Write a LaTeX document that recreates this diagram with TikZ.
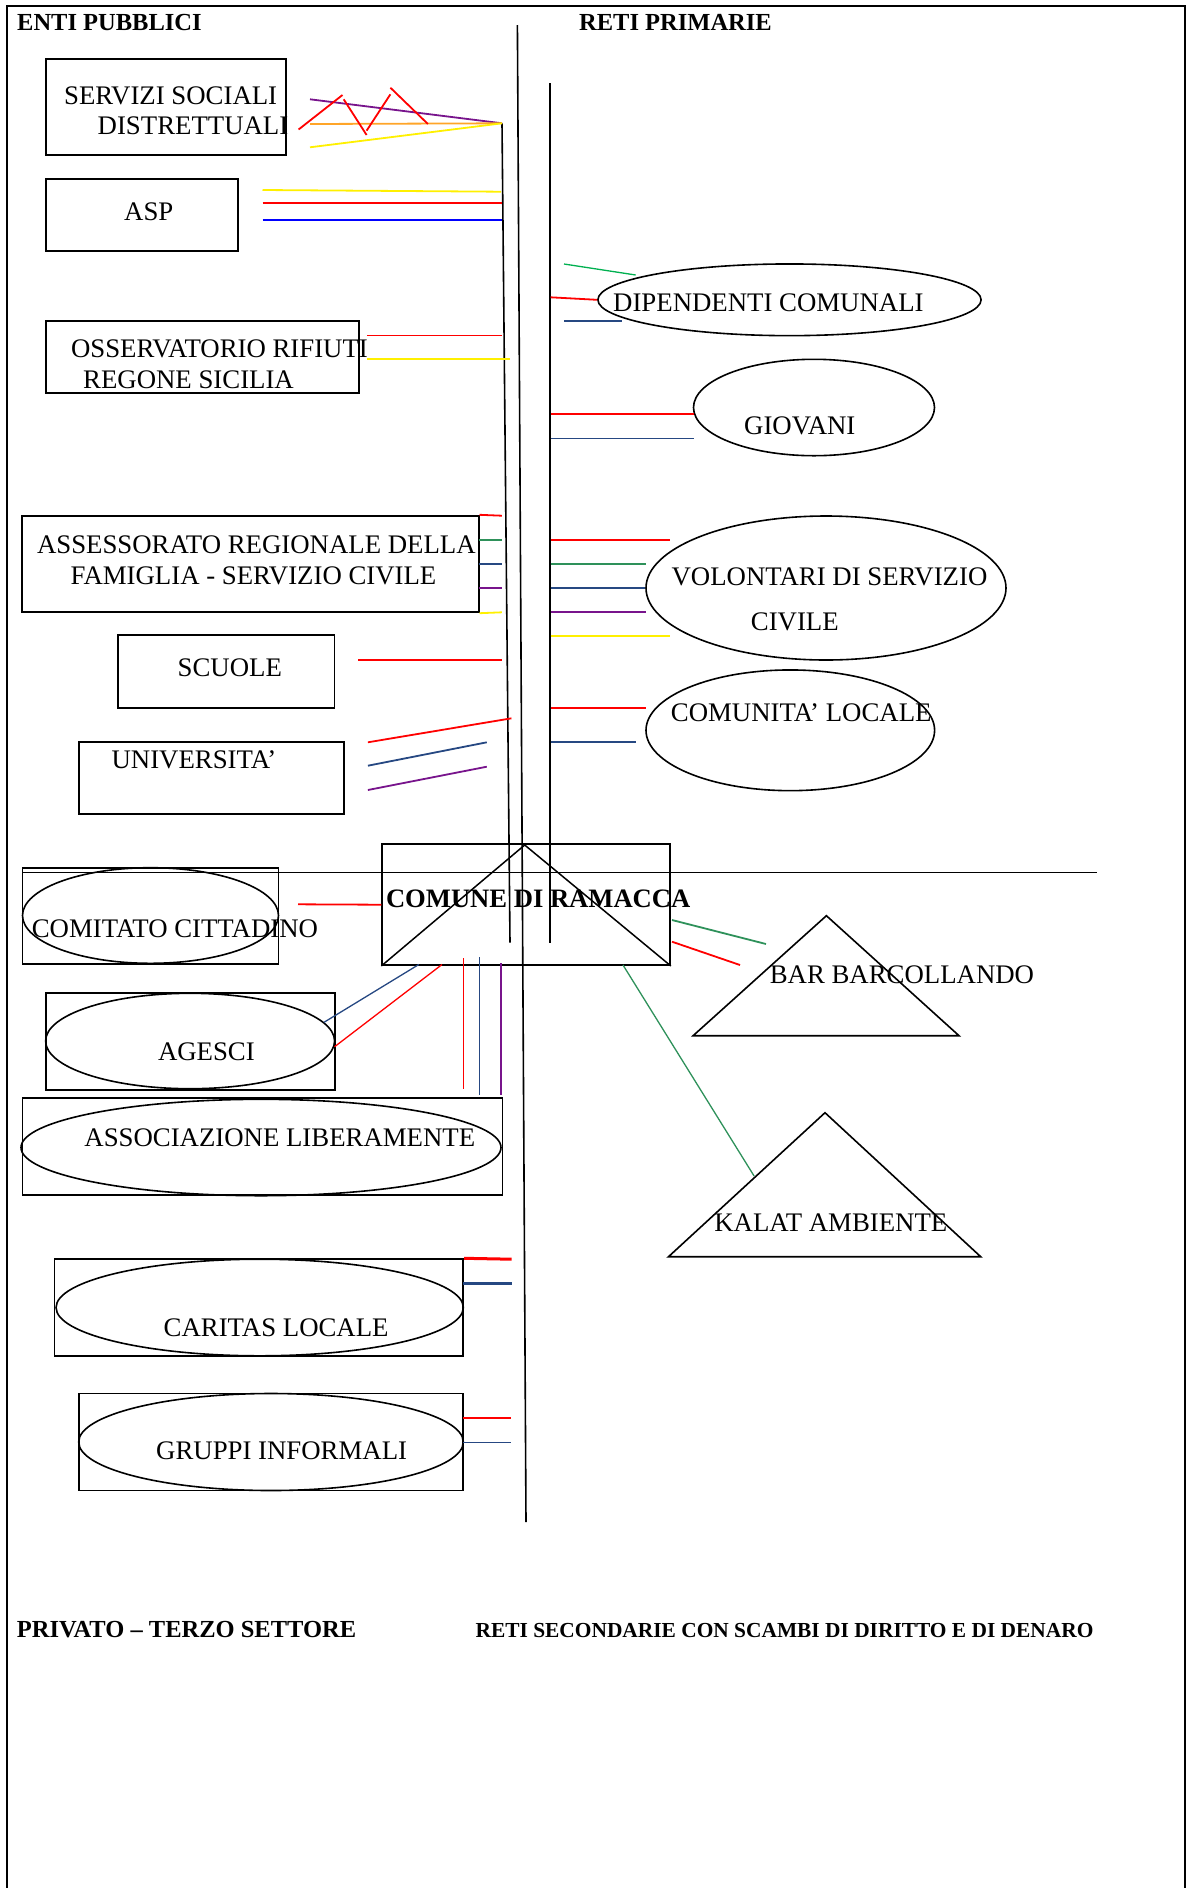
\documentclass[tikz,border=0pt]{standalone}
\usepackage{fontspec}
\setmainfont{Liberation Serif}
\usetikzlibrary{shapes.geometric}
\definecolor{cred}{RGB}{255,0,0}
\definecolor{cyellow}{RGB}{255,240,0}
\definecolor{corange}{RGB}{255,165,40}
\definecolor{cpurple}{RGB}{120,20,140}
\definecolor{cblue}{RGB}{0,0,255}
\definecolor{cnavy}{RGB}{38,72,130}
\definecolor{cgreen}{RGB}{0,176,80}
\definecolor{csea}{RGB}{46,145,90}
\begin{document}
\begin{tikzpicture}[x=1pt,y=-1pt,
  box/.style={draw, rectangle, line width=1.8pt, inner sep=0pt},
  oval/.style={draw, ellipse, line width=1.6pt, inner sep=0pt},
  lbl/.style={anchor=base west, inner sep=0pt, font=\fontsize{26.8}{30}\selectfont},
  head/.style={anchor=base west, inner sep=0pt, font=\fontsize{24.5}{28}\selectfont\bfseries},
  ln/.style={line width=1.8pt},
  thin/.style={line width=1.3pt},
  spine/.style={line width=1.6pt, black},
]
\useasboundingbox (0,0) rectangle (1187,1888);
% frame
\draw[line width=2pt] (7,1900) -- (7,6) -- (1185,6) -- (1185,1900);

% headings
\node[head] (h1) at (17,30.7) {ENTI PUBBLICI};
\node[head] (h2) at (579,30.7) {RETI PRIMARIE};
\node[head] (h3) at (16.7,1637.5) {PRIVATO – TERZO SETTORE};
\node[anchor=base west, inner sep=0pt, font=\fontsize{21.4}{24}\selectfont\bfseries] (h4) at (475.4,1637.5) {RETI SECONDARIE CON SCAMBI DI DIRITTO E DI DENARO};

% spines
\coordinate (sLt) at (502,123.3); \coordinate (sLb) at (510,942.7);
\coordinate (sMt) at (517.4,25);  \coordinate (sMb) at (526,1522);
\coordinate (sRt) at (550,83.3);  \coordinate (sRb) at (550,942.7);
\draw[spine] (sLt) -- (sLb);
\draw[spine] (sMt) -- (sMb);
\draw[spine] (sRt) -- (sRb);
\coordinate (hL) at (22.4,872.3); \coordinate (hR) at (1097,872.3);
\draw[spine] (hL) -- (hR);

% left boxes
\node[box, minimum width=240pt, minimum height=96.3pt] (serv) at (166,106.8) {};
\node[lbl] (servA) at (64,104) {SERVIZI SOCIALI};
\node[lbl] (servB) at (97.5,134.3) {DISTRETTUALI};
\node[box, minimum width=192pt, minimum height=71.7pt] (asp) at (142,214.8) {};
\node[lbl] (aspT) at (124,220) {ASP};
\node[box, minimum width=312.6pt, minimum height=71.7pt] (oss) at (202.3,356.8) {};
\node[lbl] (ossA) at (70.8,357.7) {OSSERVATORIO RIFIUTI};
\node[lbl] (ossB) at (83,388.3) {REGONE SICILIA};
\node[box, minimum width=456.6pt, minimum height=96.6pt] (ass) at (250.3,564) {};
\node[lbl] (assA) at (36.8,553.3) {ASSESSORATO REGIONALE DELLA};
\node[lbl] (assB) at (70.4,584.3) {FAMIGLIA - SERVIZIO CIVILE};
\node[box, minimum width=216.7pt, minimum height=72.7pt] (scu) at (226.2,671.7) {};
\node[lbl] (scuT) at (177.5,676.7) {SCUOLE};
\node[box, minimum width=265pt, minimum height=72.3pt] (uni) at (211.1,777.8) {};
\node[lbl] (uniT) at (111.4,768.3) {UNIVERSITA’};

% right ellipses
\node[oval, minimum width=383.2pt, minimum height=71.7pt] (dip) at (789.5,299.8) {};
\node[lbl] (dipT) at (613,311) {DIPENDENTI COMUNALI};
\node[oval, minimum width=241pt, minimum height=96.4pt] (gio) at (814,407.5) {};
\node[lbl] (gioT) at (744,434.3) {GIOVANI};
\node[oval, minimum width=360pt, minimum height=144pt] (vol) at (826,588) {};
\node[lbl] (volA) at (671.4,585) {VOLONTARI DI SERVIZIO};
\node[lbl] (volB) at (750.7,630) {CIVILE};
\node[oval, minimum width=288.6pt, minimum height=120.7pt] (com) at (790.3,730.3) {};
\node[lbl] (comT) at (670.7,721.7) {COMUNITA’ LOCALE};

% comune
\node[box, minimum width=287.7pt, minimum height=120.7pt] (comune) at (526.1,904.7) {};
\draw[line width=1.5pt] (comune.south west) -- (524.7,845) -- (comune.south east);
\node[anchor=base west, inner sep=0pt, font=\fontsize{26.6}{30}\selectfont\bfseries] (comuneT) at (385.8,907.3) {COMUNE DI RAMACCA};

% lower left boxes with ellipses
\node[box, minimum width=256pt, minimum height=96.3pt] (cit) at (150.5,915.8) {};
\node[oval, minimum width=256pt, minimum height=95.6pt] (citE) at (150.5,915.5) {};
\node[lbl] (citT) at (31.6,937.3) {COMITATO CITTADINO};
\node[box, minimum width=289pt, minimum height=96.7pt] (age) at (190.1,1041.7) {};
\node[oval, minimum width=289pt, minimum height=95.4pt] (ageE) at (190.1,1041) {};
\node[lbl] (ageT) at (157.8,1060.7) {AGESCI};
\node[box, minimum width=480pt, minimum height=96.7pt] (aso) at (262.4,1146.7) {};
\node[oval, minimum width=480pt, minimum height=96.4pt] (asoE) at (261,1147.5) {};
\node[lbl] (asoT) at (84.2,1146.7) {ASSOCIAZIONE LIBERAMENTE};
\node[box, minimum width=408.8pt, minimum height=96.6pt] (car) at (258.9,1307.5) {};
\node[oval, minimum width=407.3pt, minimum height=96.6pt] (carE) at (259.7,1307.5) {};
\node[lbl] (carT) at (163.5,1336.9) {CARITAS LOCALE};
\node[box, minimum width=384.6pt, minimum height=97pt] (gru) at (271,1442) {};
\node[oval, minimum width=384.6pt, minimum height=97pt] (gruE) at (271,1442) {};
\node[lbl] (gruT) at (156,1459.8) {GRUPPI INFORMALI};

% triangles
\coordinate (barA) at (826.4,915.7); \coordinate (barL) at (693.1,1035.7); \coordinate (barR) at (959,1035.7);
\draw[line width=1.6pt] (barA) -- (barL) -- (barR) -- cycle;
\node[lbl] (barT) at (769.6,983.3) {BAR BARCOLLANDO};
\coordinate (kalA) at (825,1112.7); \coordinate (kalL) at (668.5,1256.7); \coordinate (kalR) at (980.7,1256.7);
\draw[line width=1.6pt] (kalA) -- (kalL) -- (kalR) -- cycle;
\node[lbl] (kalT) at (714.1,1231) {KALAT AMBIENTE};

% --- connectors: servizi sociali
\draw[ln, cpurple] (310,99.3) -- (sLt);
\draw[ln, corange] (310,124) -- (sLt);
\draw[ln, cyellow] (310,147.3) -- (sLt);
\draw[ln, cred] (298.6,129.5) -- (342.5,95);
\draw[ln, cred] (343.7,99.3) -- (366.6,135);
\draw[ln, cred] (366.6,130.7) -- (390.4,94.3);
\draw[ln, cred] (390.4,87.7) -- (427.9,124);
% asp
\draw[ln, cyellow] (262.5,190) -- (501,191.7);
\draw[ln, cred] (262.5,202.7) -- (502,202.7);
\draw[ln, cblue] (262.5,220) -- (502,220);
% osservatorio
\draw[thin, cred] (367,335.7) -- (502,335.7);
\draw[ln, cyellow] (367,359.3) -- (510,359.3);
% dipendenti
\draw[thin, cgreen] (564,264) -- (635.7,275);
\draw[ln, cred] (550.7,297.3) -- (dip.west);
\draw[ln, cnavy] (564,320.7) -- (622,320.7);
% giovani
\draw[ln, cred] (550.7,414) -- (694.3,414);
\draw[thin, cnavy] (550.7,438.3) -- (694.3,438.3);
% volontari
\draw[ln, cred] (550.7,540) -- (670.4,540);
\draw[ln, csea] (550.7,564) -- (646,564);
\draw[ln, cnavy] (550.7,588) -- (vol.west);
\draw[ln, cpurple] (550.7,612) -- (646,612);
\draw[ln, cyellow] (550.7,635.7) -- (670.4,635.7);
% comunita locale
\draw[ln, cred] (550.7,707.8) -- (646,707.8);
\draw[ln, cnavy] (550.7,742.3) -- (635.7,742.3);
% assessorato
\draw[ln, cred] (ass.north east) -- (501.8,515.7);
\draw[ln, csea] (478.6,540) -- (501.8,540);
\draw[ln, cnavy] (478.6,564) -- (501.8,564);
\draw[ln, cpurple] (478.6,588) -- (501.8,588);
\draw[ln, cyellow] (ass.south east) -- (501.8,612.3);
% scuole
\draw[ln, cred] (358.2,660) -- (501.8,660);
% universita
\draw[ln, cred] (367.9,742.3) -- (511.4,718.3);
\draw[ln, cnavy] (367.9,765.7) -- (486.8,742.3);
\draw[ln, cpurple] (367.9,790) -- (486.8,766.7);
% comitato
\draw[ln, cred] (298,904.3) -- (comune.west);
% agesci
\draw[thin, cnavy] (418.8,964.5) -- (324,1022.3);
\draw[thin, cred] (442,964.5) -- (334.6,1046.7);
% associazione
\draw[thin, cred] (463.7,958.3) -- (463.7,1089.3);
\draw[thin, cnavy] (479.8,957.3) -- (479.8,1095);
\draw[thin, cpurple] (500.9,963.3) -- (500.9,1095);
% bar / kalat
\draw[thin, csea] (623,965) -- (754.1,1176);
\draw[ln, csea] (672,920) -- (766,944);
\draw[ln, cred] (672,941.7) -- (740,965);
% caritas
\draw[line width=3pt, cred] (car.north east) -- (511.7,1259.2);
\draw[line width=3pt, cnavy] (463.3,1283.4) -- (511.7,1283.4);
% gruppi
\draw[thin, cred] (463.3,1418) -- (511,1418);
\draw[thin, cnavy] (463.3,1442.2) -- (511,1442.2);
\end{tikzpicture}
\end{document}
